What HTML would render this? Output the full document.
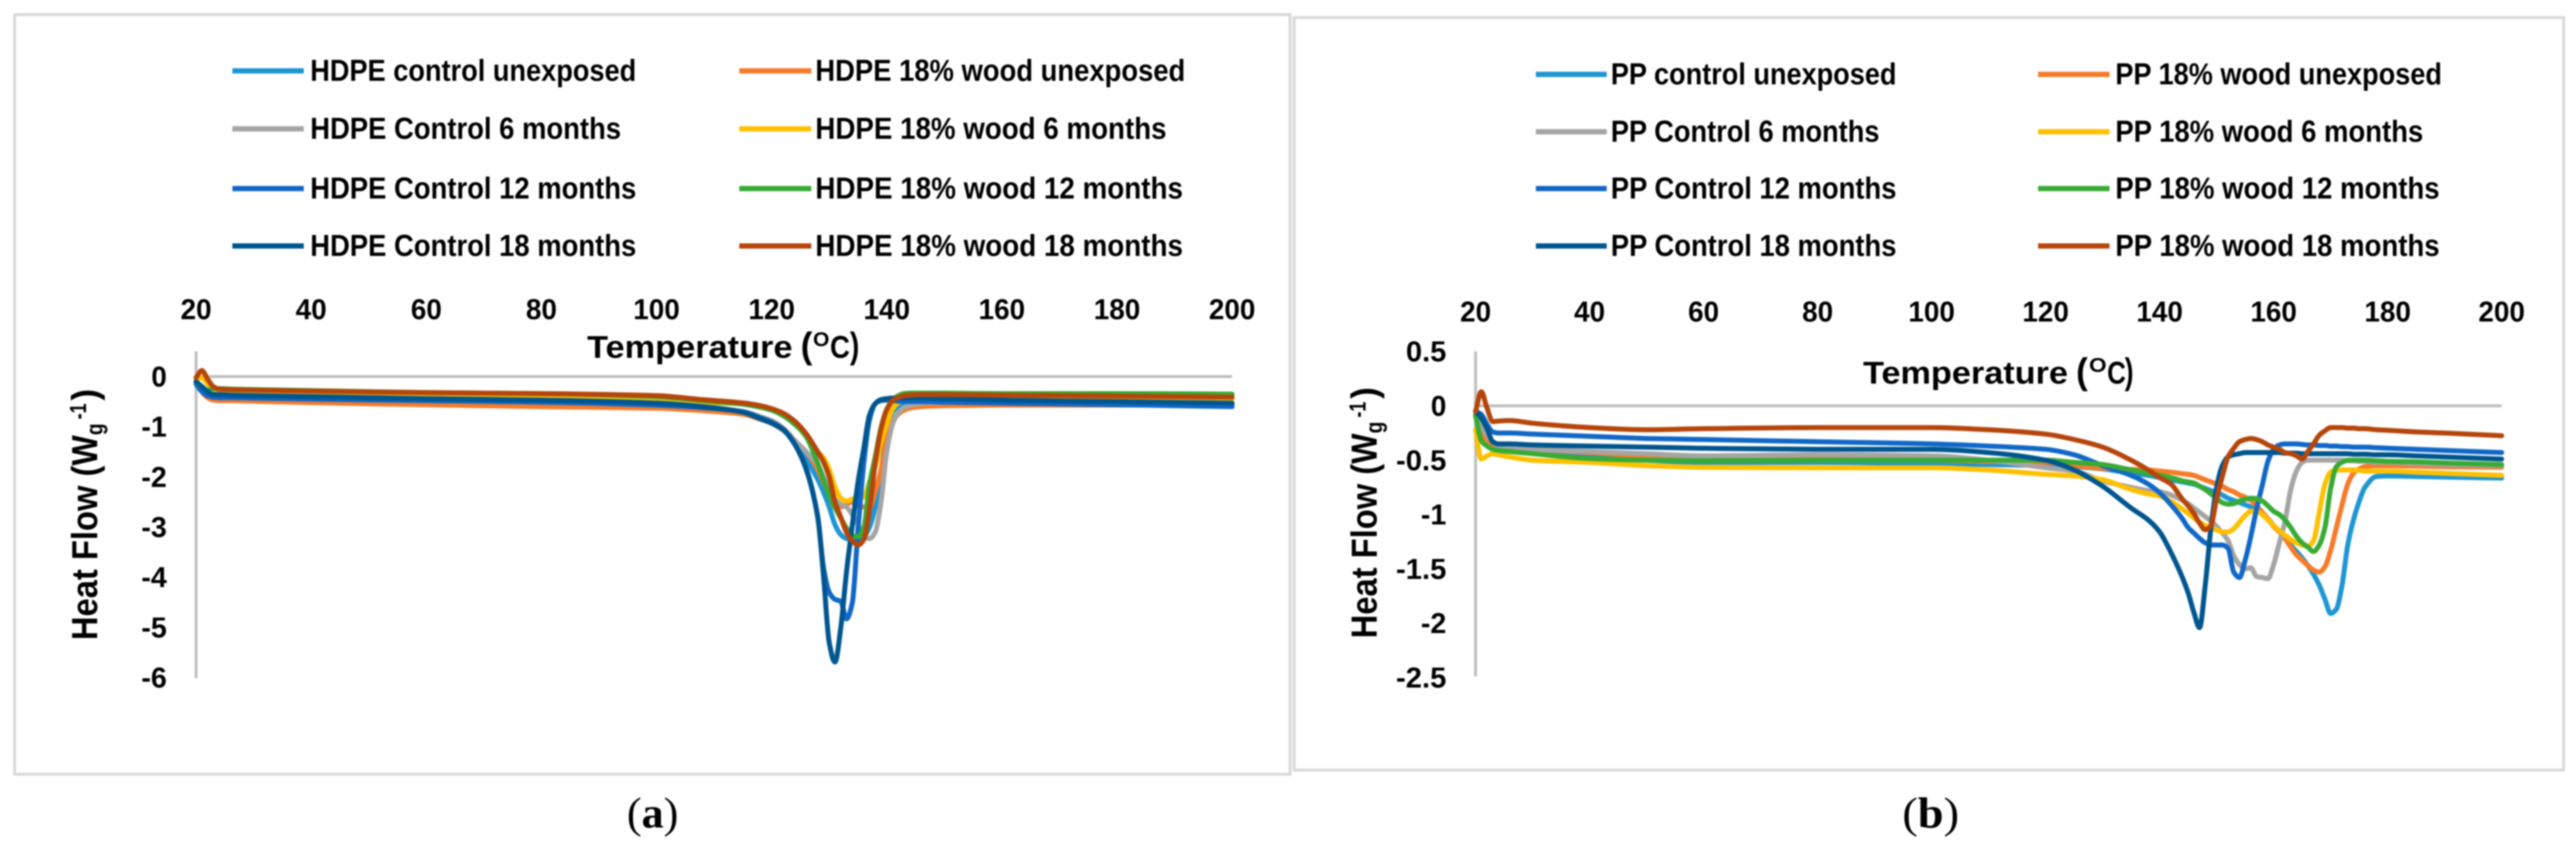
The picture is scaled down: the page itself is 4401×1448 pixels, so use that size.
<!DOCTYPE html>
<html lang="en">
<head>
<meta charset="utf-8">
<title>DSC heat flow curves for HDPE and PP composites</title>
<style>
html,body{margin:0;padding:0;background:#fff;}
#figure{display:block;width:4401px;height:1448px;filter:blur(1.2px);}
text{fill:#000;font-family:"Liberation Sans",sans-serif;font-weight:bold;}
.legend-text{font-size:52px;}
.tick-text{font-size:49px;}
.title-text{font-size:54px;}
.axis-label{font-size:62px;}
.caption{font-family:"Liberation Serif",serif;font-weight:normal;font-size:74px;}
.frame{fill:#fff;stroke:#d9d9d9;stroke-width:5;}
.axis{stroke:#bfbfbf;stroke-width:5;fill:none;}
.curve{fill:none;stroke-width:8.5;stroke-linejoin:round;stroke-linecap:round;}
.swatch{stroke-width:9;fill:none;}
.c-lightblue{stroke:#1e96d4;}
.c-orange{stroke:#f77b28;}
.c-gray{stroke:#a5a5a5;}
.c-yellow{stroke:#ffc000;}
.c-blue{stroke:#1168c8;}
.c-green{stroke:#38ab35;}
.c-darkblue{stroke:#00568f;}
.c-brown{stroke:#b5460b;}
</style>
</head>
<body>
<svg id="figure" xmlns="http://www.w3.org/2000/svg" width="4401" height="1448" viewBox="0 0 4401 1448">
  <rect width="4401" height="1448" fill="#fff"/>

  <rect class="frame" x="25" y="25" width="2179" height="1297"/>
  <rect class="frame" x="2211" y="30" width="2169" height="1285"/>

  <g>
    <g><line class="swatch c-lightblue" x1="397" x2="519" y1="121" y2="121"/><text class="legend-text" x="530" y="138" textLength="557" lengthAdjust="spacingAndGlyphs">HDPE control unexposed</text></g>
    <g><line class="swatch c-orange" x1="1263" x2="1386" y1="121" y2="121"/><text class="legend-text" x="1393" y="138" textLength="632" lengthAdjust="spacingAndGlyphs">HDPE 18% wood unexposed</text></g>
    <g><line class="swatch c-gray" x1="397" x2="519" y1="220" y2="220"/><text class="legend-text" x="530" y="237" textLength="531" lengthAdjust="spacingAndGlyphs">HDPE Control 6 months</text></g>
    <g><line class="swatch c-yellow" x1="1263" x2="1386" y1="220" y2="220"/><text class="legend-text" x="1393" y="237" textLength="600" lengthAdjust="spacingAndGlyphs">HDPE 18% wood 6 months</text></g>
    <g><line class="swatch c-blue" x1="397" x2="519" y1="322" y2="322"/><text class="legend-text" x="530" y="339" textLength="557" lengthAdjust="spacingAndGlyphs">HDPE Control 12 months</text></g>
    <g><line class="swatch c-green" x1="1263" x2="1386" y1="322" y2="322"/><text class="legend-text" x="1393" y="339" textLength="628" lengthAdjust="spacingAndGlyphs">HDPE 18% wood 12 months</text></g>
    <g><line class="swatch c-darkblue" x1="397" x2="519" y1="420" y2="420"/><text class="legend-text" x="530" y="437" textLength="557" lengthAdjust="spacingAndGlyphs">HDPE Control 18 months</text></g>
    <g><line class="swatch c-brown" x1="1263" x2="1386" y1="420" y2="420"/><text class="legend-text" x="1393" y="437" textLength="628" lengthAdjust="spacingAndGlyphs">HDPE 18% wood 18 months</text></g>
  </g>

  <g>
    <g><line class="swatch c-lightblue" x1="2624" x2="2745" y1="127" y2="127"/><text class="legend-text" x="2752" y="144" textLength="488" lengthAdjust="spacingAndGlyphs">PP control unexposed</text></g>
    <g><line class="swatch c-orange" x1="3482" x2="3604" y1="127" y2="127"/><text class="legend-text" x="3614" y="144" textLength="558" lengthAdjust="spacingAndGlyphs">PP 18% wood unexposed</text></g>
    <g><line class="swatch c-gray" x1="2624" x2="2745" y1="225" y2="225"/><text class="legend-text" x="2752" y="242" textLength="459" lengthAdjust="spacingAndGlyphs">PP Control 6 months</text></g>
    <g><line class="swatch c-yellow" x1="3482" x2="3604" y1="225" y2="225"/><text class="legend-text" x="3614" y="242" textLength="526" lengthAdjust="spacingAndGlyphs">PP 18% wood 6 months</text></g>
    <g><line class="swatch c-blue" x1="2624" x2="2745" y1="322" y2="322"/><text class="legend-text" x="2752" y="339" textLength="488" lengthAdjust="spacingAndGlyphs">PP Control 12 months</text></g>
    <g><line class="swatch c-green" x1="3482" x2="3604" y1="322" y2="322"/><text class="legend-text" x="3614" y="339" textLength="554" lengthAdjust="spacingAndGlyphs">PP 18% wood 12 months</text></g>
    <g><line class="swatch c-darkblue" x1="2624" x2="2745" y1="420" y2="420"/><text class="legend-text" x="2752" y="437" textLength="488" lengthAdjust="spacingAndGlyphs">PP Control 18 months</text></g>
    <g><line class="swatch c-brown" x1="3482" x2="3604" y1="420" y2="420"/><text class="legend-text" x="3614" y="437" textLength="554" lengthAdjust="spacingAndGlyphs">PP 18% wood 18 months</text></g>
  </g>

  <g>
    <text class="title-text" x="1003" y="611" textLength="351" lengthAdjust="spacingAndGlyphs">Temperature</text>
    <text class="title-text" x="1368" y="611" style="font-size:62px" textLength="20" lengthAdjust="spacingAndGlyphs">(</text>
    <text x="1389" y="591" style="font-size:34px" textLength="28" lengthAdjust="spacingAndGlyphs">O</text>
    <text class="title-text" x="1418" y="611" textLength="34" lengthAdjust="spacingAndGlyphs">C</text>
    <text class="title-text" x="1452" y="611" style="font-size:62px" textLength="16" lengthAdjust="spacingAndGlyphs">)</text>
  </g>
  <g>
    <text class="title-text" x="3183" y="655" textLength="350" lengthAdjust="spacingAndGlyphs">Temperature</text>
    <text class="title-text" x="3547" y="655" style="font-size:62px" textLength="20" lengthAdjust="spacingAndGlyphs">(</text>
    <text x="3569" y="635" style="font-size:34px" textLength="30" lengthAdjust="spacingAndGlyphs">O</text>
    <text class="title-text" x="3600" y="655" textLength="32" lengthAdjust="spacingAndGlyphs">C</text>
    <text class="title-text" x="3630" y="655" style="font-size:62px" textLength="15" lengthAdjust="spacingAndGlyphs">)</text>
  </g>

  <g transform="translate(166,1093) rotate(-90)">
    <text class="axis-label" x="0" y="0" textLength="298" lengthAdjust="spacingAndGlyphs">Heat Flow (</text>
    <text class="axis-label" x="298" y="0" textLength="52" lengthAdjust="spacingAndGlyphs">W</text>
    <text x="350" y="9" style="font-size:40px" textLength="20" lengthAdjust="spacingAndGlyphs">g</text>
    <text x="377" y="-19" style="font-size:40px" textLength="27" lengthAdjust="spacingAndGlyphs">-1</text>
    <text class="axis-label" x="409" y="0" textLength="20" lengthAdjust="spacingAndGlyphs">)</text>
  </g>
  <g transform="translate(2352,1090) rotate(-90)">
    <text class="axis-label" x="0" y="0" textLength="298" lengthAdjust="spacingAndGlyphs">Heat Flow (</text>
    <text class="axis-label" x="298" y="0" textLength="52" lengthAdjust="spacingAndGlyphs">W</text>
    <text x="350" y="9" style="font-size:40px" textLength="20" lengthAdjust="spacingAndGlyphs">g</text>
    <text x="377" y="-19" style="font-size:40px" textLength="27" lengthAdjust="spacingAndGlyphs">-1</text>
    <text class="axis-label" x="409" y="0" textLength="20" lengthAdjust="spacingAndGlyphs">)</text>
  </g>

  <g id="hdpe-plot"></g>
  <g id="pp-plot"></g>

  <text class="caption" x="1071" y="1413" textLength="88" lengthAdjust="spacingAndGlyphs">(<tspan style="font-weight:bold">a</tspan>)</text>
  <text class="caption" x="3250" y="1413" textLength="97" lengthAdjust="spacingAndGlyphs">(<tspan style="font-weight:bold">b</tspan>)</text>
</svg>

<script>
// ---- shared x ticks ----
const xTickLabels = [20,40,60,80,100,120,140,160,180,200];

// ---- HDPE panel data ----
const hdpeYTicks = [0,-1,-2,-3,-4,-5,-6];
const hdpeTemps = [20,21,22,23,24,26,30,40,60,80,100,108,115,118,120,122,124,126,128,129,130,131,132,133,134,135,136,137,138,139,140,141,142,143,144,146,150,160,180,200];
const hdpeControlUnexposed = [-.15,-.28,-.38,-.42,-.42,-.43,-.44,-.46,-.5,-.53,-.58,-.63,-.7,-.8,-.88,-1.03,-1.3,-1.65,-2.05,-2.3,-2.6,-2.95,-3.15,-3.23,-3.25,-3.25,-3.2,-3.0,-2.6,-1.9,-1.1,-.7,-.6,-.55,-.52,-.52,-.52,-.53,-.55,-.57];
const hdpeWoodUnexposed = [-.1,-.3,-.42,-.47,-.48,-.48,-.49,-.52,-.56,-.6,-.63,-.68,-.75,-.85,-.93,-1.07,-1.28,-1.5,-1.85,-2.1,-2.35,-2.6,-2.6,-2.55,-2.5,-2.55,-2.6,-2.6,-2.3,-1.85,-1.25,-.9,-.75,-.67,-.63,-.6,-.58,-.57,-.57,-.57];
const hdpeControl6 = [-.12,-.25,-.35,-.38,-.38,-.39,-.4,-.42,-.46,-.49,-.55,-.6,-.7,-.8,-.88,-1.03,-1.27,-1.5,-1.75,-2.0,-2.25,-2.45,-2.55,-2.6,-2.75,-2.95,-3.15,-3.23,-3.1,-2.5,-1.5,-.95,-.72,-.62,-.58,-.53,-.52,-.52,-.53,-.55];
const hdpeWood6 = [-.05,-.02,-.15,-.28,-.3,-.31,-.32,-.34,-.38,-.4,-.48,-.52,-.54,-.6,-.66,-.76,-.93,-1.18,-1.5,-1.62,-1.85,-2.2,-2.42,-2.48,-2.44,-2.4,-2.4,-2.1,-1.8,-1.3,-.95,-.65,-.52,-.47,-.44,-.42,-.42,-.43,-.44,-.45];
const hdpeControl12 = [-.15,-.3,-.38,-.41,-.42,-.42,-.43,-.45,-.48,-.51,-.57,-.62,-.7,-.82,-.91,-1.05,-1.34,-1.83,-2.78,-3.8,-4.3,-4.44,-4.48,-4.83,-4.52,-3.06,-1.73,-.86,-.54,-.48,-.47,-.48,-.49,-.5,-.5,-.5,-.51,-.53,-.56,-.6];
const hdpeWood12 = [-.12,-.2,-.28,-.24,-.24,-.25,-.26,-.28,-.32,-.34,-.4,-.48,-.55,-.61,-.67,-.78,-.95,-1.2,-1.73,-2.06,-2.36,-2.61,-2.82,-3.02,-3.17,-3.19,-3.02,-2.15,-1.6,-1.02,-.65,-.48,-.38,-.34,-.33,-.33,-.33,-.34,-.34,-.35];
const hdpeControl18 = [-.1,-.2,-.3,-.36,-.36,-.37,-.38,-.4,-.44,-.47,-.53,-.6,-.71,-.84,-.93,-1.06,-1.35,-1.85,-2.8,-3.95,-5.3,-5.69,-5.02,-3.9,-2.98,-2.11,-1.44,-.77,-.54,-.46,-.44,-.43,-.43,-.43,-.43,-.43,-.44,-.47,-.5,-.53];
const hdpeWood18 = [-.02,.12,-.05,-.2,-.25,-.26,-.27,-.29,-.32,-.34,-.38,-.46,-.525,-.58,-.64,-.73,-.89,-1.14,-1.5,-1.7,-2.0,-2.5,-2.8,-3.1,-3.27,-3.36,-3.25,-2.65,-1.72,-1.05,-.66,-.48,-.42,-.38,-.37,-.36,-.36,-.37,-.39,-.41];

// ---- PP panel data ----
const ppYTicks = ['0.5','0','-0.5','-1','-1.5','-2','-2.5'];
const ppTemps = [20,21,22,23,24,26,30,40,50,60,80,100,110,120,125,130,135,138,140,142,144,145,146,147,148,149,150,151,152,153,154,155,156,157,158,159,160,161,162,163,164,165,166,167,168,169,170,171,172,173,174,175,176,178,180,185,190,200];
const ppControlUnexposed = [-.08,-.25,-.35,-.39,-.4,-.41,-.43,-.47,-.5,-.52,-.52,-.53,-.54,-.55,-.56,-.58,-.62,-.64,-.66,-.68,-.7,-.71,-.72,-.74,-.76,-.78,-.8,-.82,-.85,-.87,-.89,-.91,-.93,-.96,-1.0,-1.04,-1.1,-1.15,-1.2,-1.28,-1.34,-1.4,-1.47,-1.55,-1.65,-1.78,-1.91,-1.87,-1.65,-1.28,-1.05,-.88,-.75,-.65,-.645,-.65,-.655,-.665];
const ppWoodUnexposed = [-.08,-.24,-.33,-.37,-.38,-.39,-.4,-.43,-.46,-.47,-.49,-.5,-.51,-.52,-.55,-.575,-.585,-.59,-.6,-.61,-.625,-.63,-.64,-.66,-.68,-.7,-.72,-.74,-.77,-.79,-.82,-.84,-.87,-.92,-.98,-1.04,-1.11,-1.16,-1.22,-1.3,-1.37,-1.42,-1.47,-1.51,-1.53,-1.48,-1.33,-1.12,-.91,-.72,-.62,-.58,-.56,-.55,-.55,-.555,-.56,-.565];
const ppControl6 = [-.1,-.18,-.27,-.33,-.37,-.38,-.4,-.42,-.44,-.46,-.45,-.46,-.5,-.57,-.6,-.69,-.75,-.78,-.79,-.82,-.87,-.9,-.94,-.98,-1.02,-1.06,-1.11,-1.17,-1.24,-1.38,-1.46,-1.5,-1.49,-1.57,-1.58,-1.59,-1.46,-1.26,-1.06,-.77,-.6,-.52,-.5,-.5,-.5,-.5,-.5,-.5,-.5,-.505,-.505,-.51,-.51,-.52,-.52,-.53,-.54,-.55];
const ppWood6 = [-.22,-.49,-.46,-.44,-.45,-.47,-.5,-.52,-.55,-.565,-.57,-.57,-.59,-.63,-.645,-.68,-.77,-.81,-.83,-.88,-.95,-.99,-1.03,-1.07,-1.1,-1.13,-1.14,-1.16,-1.16,-1.13,-1.07,-1.01,-.97,-.97,-1.0,-1.05,-1.1,-1.15,-1.19,-1.23,-1.26,-1.28,-1.29,-1.24,-.98,-.72,-.61,-.59,-.59,-.59,-.59,-.595,-.6,-.6,-.6,-.61,-.62,-.64];
const ppControl12 = [-.05,-.08,-.17,-.24,-.25,-.25,-.26,-.28,-.3,-.31,-.33,-.35,-.37,-.4,-.45,-.55,-.64,-.72,-.8,-.91,-1.04,-1.12,-1.17,-1.22,-1.26,-1.28,-1.28,-1.28,-1.31,-1.53,-1.58,-1.42,-1.2,-.95,-.73,-.51,-.4,-.36,-.35,-.35,-.35,-.355,-.36,-.36,-.365,-.365,-.37,-.37,-.375,-.375,-.38,-.38,-.38,-.385,-.39,-.4,-.41,-.43];
const ppWood12 = [-.09,-.32,-.37,-.4,-.41,-.42,-.44,-.485,-.5,-.505,-.5,-.5,-.5,-.5,-.52,-.54,-.59,-.62,-.64,-.66,-.69,-.7,-.71,-.74,-.77,-.81,-.85,-.89,-.905,-.9,-.875,-.86,-.85,-.855,-.875,-.92,-.97,-1.0,-1.05,-1.12,-1.2,-1.26,-1.3,-1.34,-1.28,-1.12,-.76,-.56,-.52,-.5,-.5,-.5,-.5,-.505,-.51,-.515,-.525,-.54];
const ppControl18 = [-.05,-.11,-.21,-.33,-.35,-.35,-.36,-.37,-.38,-.39,-.4,-.4,-.43,-.5,-.59,-.74,-.94,-1.05,-1.16,-1.35,-1.58,-1.72,-1.9,-2.04,-1.65,-1.12,-.75,-.55,-.47,-.45,-.44,-.43,-.43,-.43,-.43,-.43,-.43,-.43,-.435,-.435,-.435,-.44,-.44,-.44,-.44,-.44,-.44,-.44,-.44,-.44,-.445,-.445,-.445,-.45,-.45,-.46,-.47,-.49];
const ppWood18 = [-.05,.13,-.02,-.145,-.14,-.135,-.16,-.2,-.22,-.21,-.2,-.2,-.22,-.26,-.31,-.38,-.5,-.59,-.66,-.72,-.86,-.92,-.99,-1.08,-1.14,-1.1,-.85,-.65,-.47,-.39,-.33,-.31,-.3,-.31,-.33,-.36,-.38,-.4,-.43,-.44,-.46,-.49,-.42,-.35,-.27,-.23,-.2,-.2,-.2,-.205,-.205,-.21,-.21,-.22,-.225,-.24,-.25,-.275];

const SVG_NS = 'http://www.w3.org/2000/svg';

function linearScale(d0, d1, r0, r1) {
  return function (v) { return r0 + (v - d0) * (r1 - r0) / (d1 - d0); };
}

// Monotone cubic path through points so that curves look smoothed without overshoot.
function monotonePath(xs, ys) {
  const n = xs.length;
  const slope = [];
  for (let i = 0; i < n - 1; i++) slope.push((ys[i + 1] - ys[i]) / (xs[i + 1] - xs[i]));
  const tan = [slope[0]];
  for (let i = 1; i < n - 1; i++) {
    tan.push(slope[i - 1] * slope[i] <= 0 ? 0 : 2 * slope[i - 1] * slope[i] / (slope[i - 1] + slope[i]));
  }
  tan.push(slope[n - 2]);
  let d = 'M' + xs[0].toFixed(1) + ' ' + ys[0].toFixed(1);
  for (let i = 0; i < n - 1; i++) {
    const h = (xs[i + 1] - xs[i]) / 3;
    d += 'C' + (xs[i] + h).toFixed(1) + ' ' + (ys[i] + tan[i] * h).toFixed(1) + ' ' +
         (xs[i + 1] - h).toFixed(1) + ' ' + (ys[i + 1] - tan[i + 1] * h).toFixed(1) + ' ' +
         xs[i + 1].toFixed(1) + ' ' + ys[i + 1].toFixed(1);
  }
  return d;
}

function labelWidth(label) {
  let w = 0;
  for (const ch of String(label)) w += ch === '-' ? 17 : ch === '.' ? 16 : 26.5;
  return w;
}

function drawPanel(cfg) {
  const root = document.getElementById(cfg.rootId);
  const x = cfg.x;
  const y = cfg.y;

  const xAxisLine = document.createElementNS(SVG_NS, 'line');
  xAxisLine.setAttribute('class', 'axis');
  xAxisLine.setAttribute('x1', x(20));
  xAxisLine.setAttribute('x2', x(200));
  xAxisLine.setAttribute('y1', y(0));
  xAxisLine.setAttribute('y2', y(0));
  
  
  root.appendChild(xAxisLine);

  const yAxisLine = document.createElementNS(SVG_NS, 'line');
  yAxisLine.setAttribute('class', 'axis');
  yAxisLine.setAttribute('x1', x(20));
  yAxisLine.setAttribute('x2', x(20));
  yAxisLine.setAttribute('y1', cfg.axisTop);
  yAxisLine.setAttribute('y2', cfg.axisBottom);
  
  
  root.appendChild(yAxisLine);

  xTickLabels.forEach(function (t) {
    const el = document.createElementNS(SVG_NS, 'text');
    const w = labelWidth(t);
    el.setAttribute('class', 'tick-text');
    el.setAttribute('x', x(t) - w / 2);
    el.setAttribute('y', cfg.xTickBaseline);
    el.setAttribute('textLength', w);
    el.setAttribute('lengthAdjust', 'spacingAndGlyphs');
    
    
    el.textContent = t;
    root.appendChild(el);
  });

  cfg.yTicks.forEach(function (t) {
    const el = document.createElementNS(SVG_NS, 'text');
    const w = labelWidth(t);
    el.setAttribute('class', 'tick-text');
    el.setAttribute('x', cfg.yTickRight - w);
    el.setAttribute('y', y(Number(t)) + 17);
    el.setAttribute('textLength', w);
    el.setAttribute('lengthAdjust', 'spacingAndGlyphs');
    
    
    el.textContent = t;
    root.appendChild(el);
  });

  cfg.series.forEach(function (s) {
    const path = document.createElementNS(SVG_NS, 'path');
    path.setAttribute('class', 'curve ' + s.cls);
    path.setAttribute('d', monotonePath(cfg.temps.map(x), s.values.map(y)));
    
    
    root.appendChild(path);
  });
}

drawPanel({
  rootId: 'hdpe-plot',
  prefix: 'hdpe',
  x: linearScale(20, 200, 335, 2105),
  y: linearScale(0, -6, 643, 1157),
  axisTop: 600,
  axisBottom: 1158,
  xTickBaseline: 545,
  yTickRight: 285,
  yTicks: hdpeYTicks,
  temps: hdpeTemps,
  series: [
    { key: 'control-unexposed', cls: 'c-lightblue', values: hdpeControlUnexposed },
    { key: 'wood-unexposed', cls: 'c-orange', values: hdpeWoodUnexposed },
    { key: 'control-6-months', cls: 'c-gray', values: hdpeControl6 },
    { key: 'wood-6-months', cls: 'c-yellow', values: hdpeWood6 },
    { key: 'control-12-months', cls: 'c-blue', values: hdpeControl12 },
    { key: 'wood-12-months', cls: 'c-green', values: hdpeWood12 },
    { key: 'control-18-months', cls: 'c-darkblue', values: hdpeControl18 },
    { key: 'wood-18-months', cls: 'c-brown', values: hdpeWood18 }
  ]
});

drawPanel({
  rootId: 'pp-plot',
  prefix: 'pp',
  x: linearScale(20, 200, 2521, 4274),
  y: linearScale(0, -2.5, 693, 1157),
  axisTop: 600,
  axisBottom: 1155,
  xTickBaseline: 549,
  yTickRight: 2471,
  yTicks: ppYTicks,
  temps: ppTemps,
  series: [
    { key: 'control-unexposed', cls: 'c-lightblue', values: ppControlUnexposed },
    { key: 'wood-unexposed', cls: 'c-orange', values: ppWoodUnexposed },
    { key: 'control-6-months', cls: 'c-gray', values: ppControl6 },
    { key: 'wood-6-months', cls: 'c-yellow', values: ppWood6 },
    { key: 'control-12-months', cls: 'c-blue', values: ppControl12 },
    { key: 'wood-12-months', cls: 'c-green', values: ppWood12 },
    { key: 'control-18-months', cls: 'c-darkblue', values: ppControl18 },
    { key: 'wood-18-months', cls: 'c-brown', values: ppWood18 }
  ]
});
</script>
</body>
</html>
